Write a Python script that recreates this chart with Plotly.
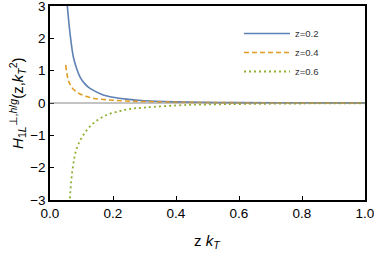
import plotly.graph_objects as go

# data
kt_a = [0.055, 0.0635, 0.074, 0.085, 0.095, 0.11, 0.127, 0.15, 0.169, 0.2, 0.243, 0.3, 0.4, 0.5, 0.6, 0.8, 1.0]
h_a = [3.0, 2.16, 1.43, 1.05, 0.81, 0.6, 0.45, 0.33, 0.25, 0.18, 0.12, 0.07, 0.035, 0.02, 0.012, 0.006, 0.003]

kt_b = [0.050, 0.058, 0.068, 0.079, 0.095, 0.116, 0.14, 0.169, 0.2, 0.243, 0.3, 0.4, 0.5, 0.6, 0.8, 1.0]
h_b = [1.18, 0.71, 0.5, 0.38, 0.28, 0.2, 0.14, 0.11, 0.085, 0.06, 0.045, 0.025, 0.015, 0.01, 0.005, 0.003]

kt_c = [0.063, 0.072, 0.085, 0.106, 0.137, 0.18, 0.222, 0.249, 0.3, 0.434, 0.5, 0.62, 0.8, 1.0]
h_c = [-2.95, -2.02, -1.40, -0.99, -0.63, -0.37, -0.25, -0.19, -0.14, -0.06, -0.045, -0.03, -0.015, -0.008]

names = ["z=0.2", "z=0.4", "z=0.6"]
x_ticks = [0.0, 0.2, 0.4, 0.6, 0.8, 1.0]
y_ticks = [-3, -2, -1, 0, 1, 2, 3]
x_title = "z <i>k</i><sub><i>T</i></sub>"
y_title = "<i>H</i><sub>1<i>L</i></sub><sup>\u22a5,<i>h</i>/<i>g</i></sup>(z,<i>k</i><sub><i>T</i></sub><sup>2</sup>)"

FONT = "Liberation Sans, Arial"

fig = go.Figure()
fig.add_trace(go.Scatter(x=kt_a, y=h_a, mode="lines", name=names[0], line_shape="spline",
                         line=dict(color="#5E81B5", width=1.6)))
fig.add_trace(go.Scatter(x=kt_b, y=h_b, mode="lines", name=names[1], line_shape="spline",
                         line=dict(color="#E19C24", width=1.6, dash="5px,3px")))
fig.add_trace(go.Scatter(x=kt_c, y=h_c, mode="lines", name=names[2], line_shape="spline",
                         line=dict(color="#8FB032", width=1.8, dash="2px,3px")))

fig.add_hline(y=0, line=dict(color="#888888", width=1))

axis_common = dict(showgrid=False, zeroline=False, showline=True, linecolor="black", linewidth=1.5,
                   mirror=True, ticks="inside", ticklen=4, tickwidth=1.2, tickcolor="black",
                   automargin=False, ticklabeloverflow="allow",
                   tickfont=dict(family=FONT, size=13.5, color="black"))

fig.update_xaxes(range=[0, 1], tickvals=x_ticks, ticktext=[f"{v:.1f}" for v in x_ticks], **axis_common)
fig.update_yaxes(range=[-3, 3], tickvals=y_ticks,
                 ticktext=[("\u2212" + str(-v)) if v < 0 else str(v) for v in y_ticks], **axis_common)

fig.add_annotation(text=x_title, xref="paper", yref="paper", x=0.5, y=-0.215,
                   xanchor="center", yanchor="middle", showarrow=False,
                   font=dict(family=FONT, size=15, color="black"))
fig.add_annotation(text=y_title, xref="paper", yref="paper", x=-0.105, y=0.5,
                   xanchor="center", yanchor="middle", textangle=-90, showarrow=False,
                   font=dict(family=FONT, size=15, color="black"))

fig.update_layout(
    width=374, height=253,
    margin=dict(l=50, r=9, t=6, b=53),
    paper_bgcolor="white", plot_bgcolor="white",
    showlegend=True,
    legend=dict(x=0.6, y=0.933, xanchor="left", yanchor="top", bgcolor="rgba(0,0,0,0)",
                font=dict(family=FONT, size=9.5, color="#333333"),
                itemwidth=46, tracegroupgap=0),
)

fig.write_html("out.html", config={"displayModeBar": False},
               post_script="document.body.style.margin='0px';document.body.style.overflow='hidden';")
